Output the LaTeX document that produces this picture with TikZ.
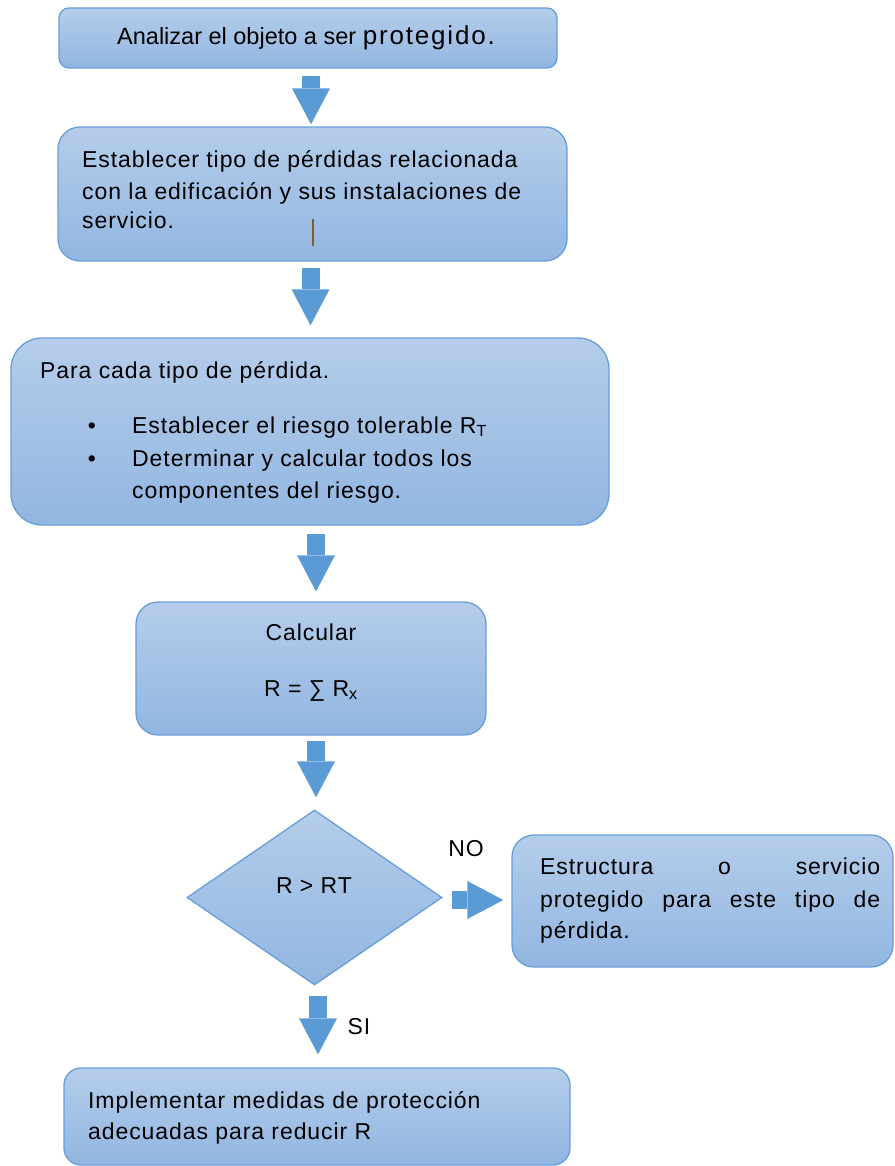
\documentclass[tikz,border=0pt]{standalone}
\usepackage{fontspec}
\setmainfont{Liberation Sans}[LetterSpace=4]
\usetikzlibrary{shapes.geometric,arrows.meta,calc}
\definecolor{boxtop}{RGB}{180,205,234}
\definecolor{boxbot}{RGB}{146,182,225}
\definecolor{boxline}{RGB}{104,158,215}
\definecolor{arrowblue}{RGB}{91,155,213}
\definecolor{caret}{RGB}{130,90,50}
\setlength{\parindent}{0pt}

\begin{document}
\begin{tikzpicture}[x=1pt,y=-1pt,
  box/.style={draw=boxline, line width=1.3pt, top color=boxtop, bottom color=boxbot,
              inner sep=0pt, rectangle},
  decision/.style={box, diamond},
  txt/.style={font=\fontsize{23}{29}\selectfont, inner sep=0pt, text=black},
  flowarrow/.style={draw=arrowblue, line width=18pt,
              -{Triangle[width=38pt,length=36pt,line width=0pt]}}]
\useasboundingbox (0,0) rectangle (894,1166);

% process boxes
\node[box, minimum width=498, minimum height=60, rounded corners=10] (b1) at (308,38) {};
\node[box, minimum width=509, minimum height=134, rounded corners=22] (b2) at (312.5,194) {};
\node[box, minimum width=598, minimum height=187, rounded corners=31] (b3) at (310,431.5) {};
\node[box, minimum width=350, minimum height=133, rounded corners=22] (b4) at (311,668.5) {};
\node[decision, minimum width=255, minimum height=175] (dec) at (314.5,897.5) {};
\node[box, minimum width=381, minimum height=132, rounded corners=22] (b5) at (702.5,901) {};
\node[box, minimum width=506, minimum height=97, rounded corners=17] (b6) at (317,1116.5) {};

% box texts
\node[txt, anchor=base, font=\fontsize{23.5}{29}\selectfont\addfontfeature{LetterSpace=0}] (t1) at (306,45)
  {Analizar el objeto a ser {\fontsize{26}{29}\selectfont\addfontfeature{LetterSpace=7}protegido.}};

\node[txt, anchor=base west] (t2a) at (82,168) {Establecer tipo de pérdidas relacionada};
\node[txt, anchor=base west] (t2b) at (82,200) {con la edificación y sus instalaciones de};
\node[txt, anchor=base west] (t2c) at (82,229) {servicio.};
\draw[caret, line width=1.4pt] ($(b2.south)+(0.5,-43)$) coordinate (c1) -- ($(b2.south)+(0.5,-16)$) coordinate (c2);

\node[txt, anchor=base west] (t3a) at (40,378) {Para cada tipo de pérdida.};
\node[txt, anchor=base] (u1) at (92,433) {•};
\node[txt, anchor=base] (u2) at (92,466) {•};
\node[txt, anchor=base west] (t3b) at (132,433) {Establecer el riesgo tolerable R\textsubscript{T}};
\node[txt, anchor=base west] (t3c) at (132,466) {Determinar y calcular todos los};
\node[txt, anchor=base west] (t3d) at (132,498) {componentes del riesgo.};

\node[txt, anchor=base] (t4a) at (311,640) {Calcular};
\node[txt, anchor=base] (t4b) at (311,696) {R = ∑ R\textsubscript{x}};

\node[txt, anchor=base] (t5) at (314,893) {R > RT};

\node[txt, anchor=base west] (t6a) at (540,874) {\makebox[340pt][s]{Estructura o servicio}};
\node[txt, anchor=base west] (t6b) at (540,907) {\makebox[340pt][s]{protegido para este tipo de}};
\node[txt, anchor=base west] (t6c) at (540,938) {pérdida.};

\node[txt, anchor=base west] (t7a) at (88,1108) {Implementar medidas de protección};
\node[txt, anchor=base west] (t7b) at (88,1139) {adecuadas para reducir R};

% branch labels
\node[txt] (no) at (466,849) {NO};
\node[txt] (si) at (359,1027) {SI};

% block arrows
\draw[flowarrow] ($(b1.south)+(3,7)$) -- ($(b2.north)+(-1.5,-2)$);
\draw[flowarrow] ($(b2.south)+(-2,6)$) -- ($(b3.north)+(0.5,-12)$);
\draw[flowarrow] ($(b3.south)+(6,8)$) -- ($(b4.north)+(5,-10)$);
\draw[flowarrow] ($(b4.south)+(5,5)$) -- ($(dec.north)+(1.5,-12)$);
\draw[flowarrow] ($(dec.south)+(3.5,10)$) -- ($(b6.north)+(1,-13)$);
\draw[flowarrow] ($(dec.east)+(9,2.5)$) -- ($(b5.west)+(-8,-1)$);
\end{tikzpicture}
\end{document}
